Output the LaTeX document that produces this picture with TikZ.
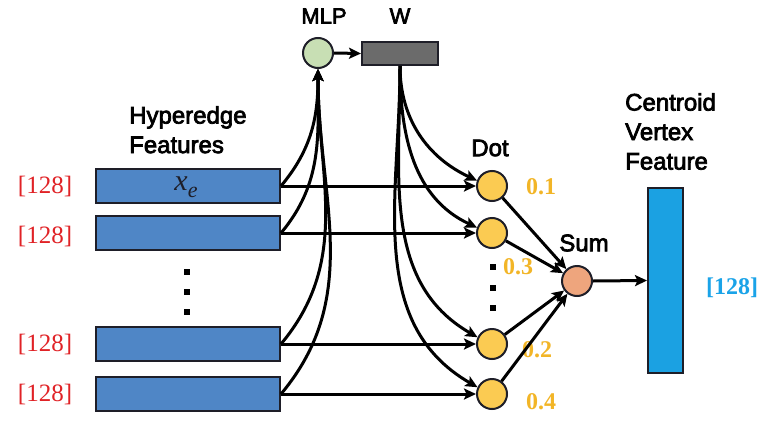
\documentclass[tikz,border=0pt]{standalone}
\usepackage{fontspec}
\newfontfamily\sansf[FakeBold=3]{Liberation Sans}
\newfontfamily\seriff{Liberation Serif}
\usetikzlibrary{arrows.meta}
\definecolor{barblue}{HTML}{4F86C6}
\definecolor{cenblue}{HTML}{1BA1E2}
\definecolor{mlpgreen}{HTML}{C8DFB4}
\definecolor{wgray}{HTML}{6B6B6B}
\definecolor{dotgold}{HTML}{FBCB52}
\definecolor{sumsalmon}{HTML}{EEA57D}
\definecolor{wtgold}{HTML}{F2B527}
\definecolor{dimred}{HTML}{E02226}
\definecolor{dimcyan}{HTML}{1AA3E8}
\definecolor{edgek}{HTML}{1E1E28}
\tikzset{
  featbar/.style={draw=edgek, line width=2pt, fill=barblue, minimum width=184pt, minimum height=34pt, inner sep=0pt},
  circ/.style={circle, draw=edgek, line width=2pt, minimum size=30pt, inner sep=0pt},
  arr/.style={line width=3pt, -{Stealth[length=12pt,width=11pt,inset=2.5pt]}},
  lab/.style={font=\sansf\fontsize{24}{29.5}\selectfont, inner sep=0pt},
  dimlab/.style={font=\seriff\fontsize{25}{28}\selectfont, text=dimred, inner sep=0pt},
  wlab/.style={font=\seriff\bfseries\fontsize{24}{28}\selectfont, text=wtgold, inner sep=0pt},
  sq/.style={fill=black, minimum size=6.5pt, inner sep=0pt},
}
\begin{document}
\begin{tikzpicture}[x=1pt,y=-1pt]
\useasboundingbox (0,0) rectangle (775,420);
% feature bars
\node[featbar] (b1) at (188,186) {};
\node[inner sep=0pt, font=\seriff\itshape\fontsize{30}{30}\selectfont, text=edgek] (xe) at (186,187) {x\raisebox{-7pt}{\fontsize{22}{22}\selectfont e}};
\node[featbar] (b2) at (188,233) {};
\node[featbar] (b3) at (188,344) {};
\node[featbar] (b4) at (188,394) {};
\node[dimlab] (r1) at (45,186) {[128]};
\node[dimlab] (r2) at (45,236) {[128]};
\node[dimlab] (r3) at (45,344) {[128]};
\node[dimlab] (r4) at (45,394) {[128]};
\node[sq] (v1) at (187,272) {};
\node[sq] (v2) at (187,292) {};
\node[sq] (v3) at (187,312) {};
\node[lab, anchor=north west, align=left] (hf) at (129,106) {Hyperedge\\Features};
% MLP and W
\node[circ, fill=mlpgreen] (mlp) at (318,53) {};
\node[draw=edgek, line width=2pt, fill=wgray, minimum width=76pt, minimum height=23pt, inner sep=0pt] (w) at (400,53.5) {};
\node[lab, font=\sansf\fontsize{22}{22}\selectfont] (mlpl) at (324,16) {MLP};
\node[lab, font=\sansf\fontsize{22}{22}\selectfont] (wl) at (400,16) {W};
% Dot circles
\node[circ, fill=dotgold] (d1) at (492,186) {};
\node[circ, fill=dotgold] (d2) at (492,233) {};
\node[circ, fill=dotgold] (d3) at (492,344) {};
\node[circ, fill=dotgold] (d4) at (492,394) {};
\node[lab] (dotl) at (490,148) {Dot};
\node[sq] (u1) at (493,267) {};
\node[sq] (u2) at (493,288) {};
\node[sq] (u3) at (493,308) {};
\node[wlab] (w1) at (541,187) {0.1};
\node[wlab] (w2) at (518,267) {0.3};
\node[wlab] (w3) at (537,350) {0.2};
\node[wlab] (w4) at (541,402) {0.4};
% Sum
\node[circ, fill=sumsalmon] (sum) at (577,281) {};
\node[lab] (suml) at (584,243) {Sum};
% centroid
\node[draw=edgek, line width=2pt, fill=cenblue, minimum width=35pt, minimum height=185pt, inner sep=0pt] (c) at (665.5,280.5) {};
\node[lab, anchor=north west, align=left] (cl) at (625,93) {Centroid\\Vertex\\Feature};
\node[font=\seriff\bfseries\fontsize{24}{28}\selectfont, text=dimcyan, inner sep=0pt] (cd) at (732,288) {[128]};
% connectors: bars to MLP
\foreach \b in {b1,b2,b3,b4}{
  \draw[arr] (\b.east) to[out=50,in=-90] (mlp.south);
}
\draw[arr] (mlp.east) -- (w.west);
% bars to dots
\draw[arr] (b1.east) -- (d1.west);
\draw[arr] (b2.east) -- (d2.west);
\draw[arr] (b3.east) -- (d3.west);
\draw[arr] (b4.east) -- (d4.west);
% W to dots
\draw[arr] (w.south) to[out=-90,in=155] (d1.160);
\draw[arr] (w.south) to[out=-90,in=155] (d2.160);
\draw[arr] (w.south) to[out=-90,in=150] (d3.155);
\draw[arr] (w.south) to[out=-90,in=150] (d4.155);
% dots to sum
\foreach \d in {d1,d2,d3,d4}{
  \draw[arr] (\d) -- (sum);
}
\draw[arr] (sum.east) -- (c.west);
\end{tikzpicture}
\end{document}
